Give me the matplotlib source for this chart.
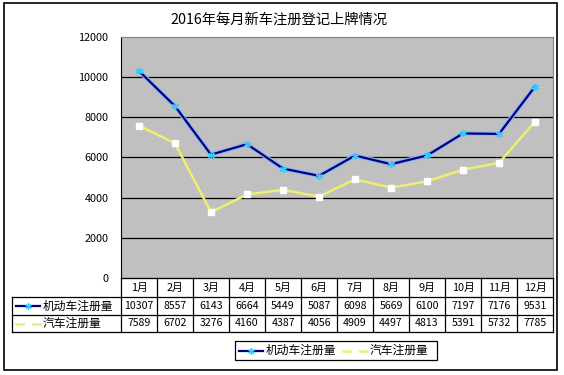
import matplotlib.pyplot as plt
import matplotlib.patheffects as pe
from matplotlib.patches import Rectangle

plt.rcParams['font.family'] = ['Noto Sans CJK SC', 'DejaVu Sans']

# Données
months = ['1月', '2月', '3月', '4月', '5月', '6月', '7月', '8月', '9月', '10月', '11月', '12月']
motor = [10307, 8557, 6143, 6664, 5449, 5087, 6098, 5669, 6100, 7197, 7176, 9531]
cars = [7589, 6702, 3276, 4160, 4387, 4056, 4909, 4497, 4813, 5391, 5732, 7785]
series_names = ['机动车注册量', '汽车注册量']
title = '2016年每月新车注册登记上牌情况'
yticks = [0, 2000, 4000, 6000, 8000, 10000, 12000]

W, H = 564, 375
NAVY = '#00007f'
CYAN = '#33ccff'
GLOW = '#8fb8f0'
YEL = '#eeee70'

fig = plt.figure(figsize=(W / 100, H / 100), dpi=100)

# zone de tracé (pixels)
px_l, px_r, px_t, px_b = 121, 553, 37, 278
ax = fig.add_axes([px_l / W, 1 - px_b / H, (px_r - px_l) / W, (px_b - px_t) / H])
ax.set_facecolor('#c0c0c0')
ax.set_xlim(-0.5, len(months) - 0.5)
ax.set_ylim(0, 12000)
ax.set_xticks([])
ax.set_yticks(yticks)
ax.set_yticklabels([str(v) for v in yticks], fontsize=7.8)
ax.tick_params(axis='y', length=0, pad=9)
for v in yticks[1:-1]:
    ax.axhline(v, color='black', lw=0.9, zorder=1)
for s in ['top', 'right', 'bottom']:
    ax.spines[s].set_color('#808080')
ax.spines['left'].set_color('black')

x = list(range(len(months)))
glow = [pe.Stroke(linewidth=3.3, foreground=GLOW), pe.Normal()]
ax.plot(x, motor, color=NAVY, lw=1.6, zorder=4, path_effects=glow)
ax.plot(x, motor, ls='none', marker=(6, 2, 0), ms=5, mec=CYAN, mew=1.0, zorder=5)
ax.plot(x, cars, color=YEL, lw=1.8, zorder=3)
ax.plot(x, cars, ls='none', marker='s', ms=3.8, mfc='white', mec='white', zorder=5)

# calque en pixels pour le tableau, la légende, le cadre
top = fig.add_axes([0, 0, 1, 1], zorder=10)
top.set_xlim(0, W)
top.set_ylim(H, 0)
top.axis('off')
top.patch.set_alpha(0)

top.add_patch(Rectangle((4, 3), 553, 367, fill=False, ec='black', lw=1.2))
top.text(279, 20, title, ha='center', va='center', fontsize=10.3)

# tableau de données
col_w = (px_r - px_l) / len(months)
lab_l = 12
rows_y = [278, 297, 315, 332]
lk = dict(color='black', lw=0.9)
top.plot([px_l, px_r], [rows_y[0], rows_y[0]], **lk)
for yy in rows_y[1:]:
    top.plot([lab_l, px_r], [yy, yy], **lk)
top.plot([lab_l, lab_l], [rows_y[1], rows_y[3]], **lk)
for i in range(len(months) + 1):
    xx = px_l + i * col_w
    top.plot([xx, xx], [rows_y[0], rows_y[3]], **lk)
for i, m in enumerate(months):
    cx = px_l + (i + 0.5) * col_w
    top.text(cx, (rows_y[0] + rows_y[1]) / 2, m, ha='center', va='center', fontsize=7.8)
    top.text(cx, (rows_y[1] + rows_y[2]) / 2, str(motor[i]), ha='center', va='center', fontsize=7.6)
    top.text(cx, (rows_y[2] + rows_y[3]) / 2, str(cars[i]), ha='center', va='center', fontsize=7.6)


def key(x0, y0, navy):
    if navy:
        top.plot([x0, x0 + 24], [y0, y0], color=NAVY, lw=1.6)
        top.plot([x0 + 12], [y0], marker=(6, 2, 0), ms=4.5, mec=CYAN, mew=1.0)
    else:
        top.plot([x0, x0 + 24], [y0, y0], color=YEL, lw=1.8)
        top.plot([x0 + 12], [y0], marker='s', ms=3.8, mfc='white', mec='white')


# clés de ligne dans les en-têtes de rangée
ry1 = (rows_y[1] + rows_y[2]) / 2
ry2 = (rows_y[2] + rows_y[3]) / 2
key(16, ry1, True)
top.text(43, ry1, series_names[0], ha='left', va='center', fontsize=8.5)
key(16, ry2, False)
top.text(43, ry2, series_names[1], ha='left', va='center', fontsize=8.5)

# légende
top.add_patch(Rectangle((235, 341), 202, 19, fc='white', ec='black', lw=0.9))
ly = 350.5
key(239, ly, True)
top.text(266, ly, series_names[0], ha='left', va='center', fontsize=8.5)
key(343, ly, False)
top.text(370, ly, series_names[1], ha='left', va='center', fontsize=8.5)

fig.savefig('out.png', dpi=100, facecolor='white')
